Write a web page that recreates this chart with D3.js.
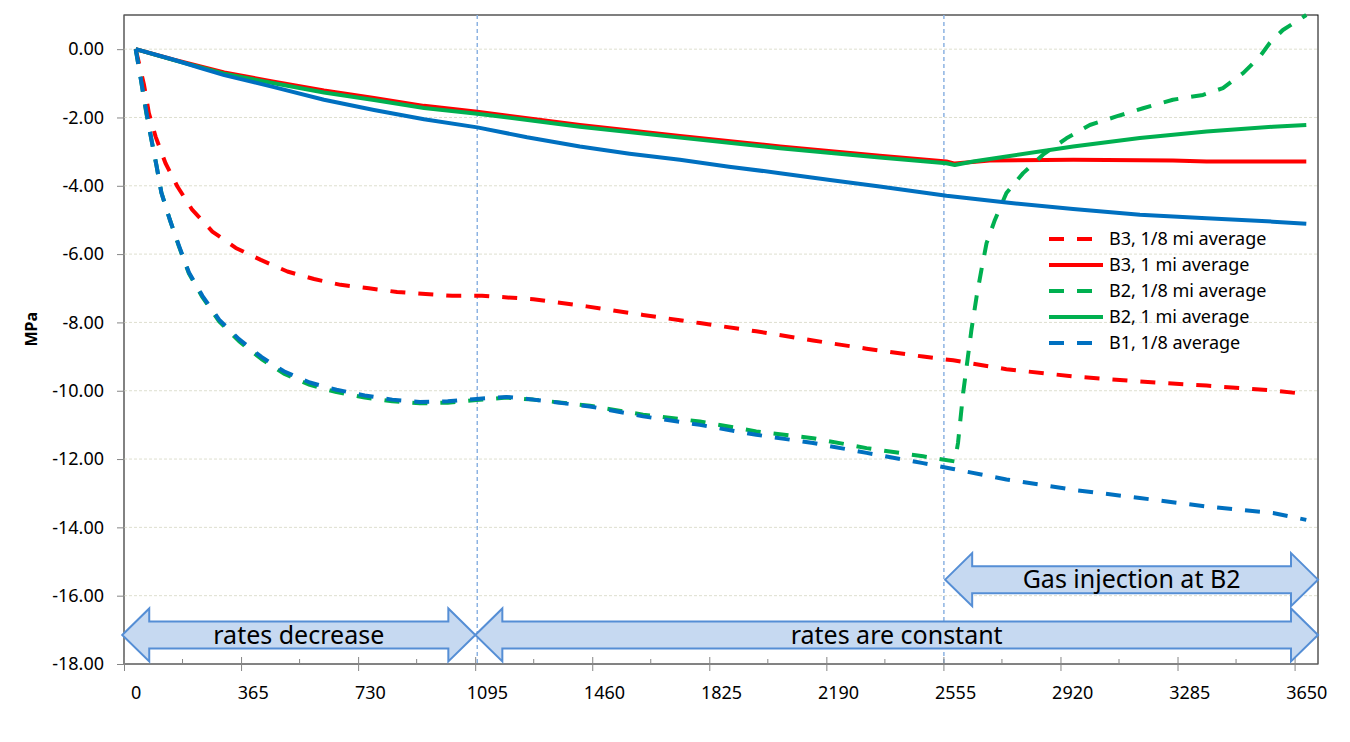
<!DOCTYPE html>
<html>
<head>
<meta charset="utf-8">
<script src="https://cdn.jsdelivr.net/npm/d3@7"></script>
<style>
  body { margin: 0; background: #fff; }
  svg { font-family: "Noto Sans", sans-serif; }
</style>
</head>
<body>
<div id="vis"></div>
<script>
// ---- data (day, MPa) ----
var b3Eighth = [[0,0],[26,-1.05],[41,-1.87],[62,-2.56],[93,-3.34],[130,-4.02],[176,-4.70],[239,-5.34],[312,-5.82],[390,-6.17],[473,-6.51],[556,-6.73],[639,-6.90],[727,-7.00],[815,-7.11],[904,-7.17],[987,-7.22],[1080,-7.22],[1240,-7.32],[1406,-7.53],[1582,-7.78],[1759,-8.02],[1935,-8.26],[2112,-8.53],[2279,-8.77],[2455,-9.00],[2549,-9.11],[2715,-9.37],[2923,-9.58],[3131,-9.73],[3339,-9.85],[3546,-9.99],[3650,-10.10]];
var b3Mile = [[0,0],[119,-0.31],[276,-0.68],[431,-0.95],[587,-1.21],[743,-1.43],[899,-1.66],[1065,-1.83],[1385,-2.22],[1697,-2.54],[2009,-2.85],[2320,-3.12],[2528,-3.29],[2554,-3.35],[2663,-3.26],[2923,-3.24],[3234,-3.26],[3339,-3.29],[3650,-3.29]];
var b2Eighth = [[0,0],[16,-0.88],[33,-1.87],[49,-2.65],[65,-3.42],[80,-4.2],[106,-4.98],[135,-5.78],[166,-6.57],[208,-7.26],[260,-7.97],[322,-8.55],[392,-9.07],[462,-9.50],[543,-9.83],[626,-10.04],[714,-10.20],[800,-10.31],[886,-10.37],[973,-10.35],[1063,-10.27],[1156,-10.20],[1240,-10.26],[1416,-10.44],[1582,-10.70],[1759,-10.90],[1935,-11.19],[2112,-11.39],[2279,-11.68],[2455,-11.92],[2554,-12.07],[2564,-11.53],[2580,-10.07],[2595,-9.00],[2606,-8.21],[2622,-7.24],[2637,-6.46],[2653,-5.68],[2679,-5.00],[2715,-4.21],[2767,-3.63],[2829,-3.09],[2902,-2.61],[2975,-2.22],[3058,-1.97],[3141,-1.73],[3234,-1.48],[3328,-1.34],[3390,-1.14],[3453,-0.70],[3505,-0.22],[3536,0.18],[3577,0.56],[3619,0.81],[3650,1.0]];
var b2Mile = [[0,0],[119,-0.32],[276,-0.72],[431,-1.00],[587,-1.27],[743,-1.49],[899,-1.72],[1065,-1.89],[1385,-2.27],[1697,-2.59],[2009,-2.90],[2320,-3.17],[2528,-3.34],[2554,-3.39],[2611,-3.29],[2715,-3.14],[2923,-2.85],[3131,-2.60],[3339,-2.41],[3546,-2.27],[3650,-2.22]];
var b1Eighth = [[0,0],[16,-0.88],[33,-1.83],[49,-2.65],[65,-3.42],[80,-4.2],[106,-4.98],[135,-5.76],[166,-6.54],[208,-7.22],[260,-7.92],[322,-8.49],[392,-9.01],[462,-9.43],[543,-9.76],[626,-9.97],[714,-10.14],[800,-10.26],[886,-10.33],[973,-10.31],[1063,-10.24],[1156,-10.18],[1240,-10.26],[1416,-10.46],[1582,-10.75],[1759,-11.00],[1935,-11.29],[2112,-11.53],[2279,-11.82],[2455,-12.12],[2549,-12.29],[2715,-12.60],[2923,-12.90],[3131,-13.14],[3339,-13.39],[3546,-13.58],[3650,-13.78]];
var b1Mile = [[0,0],[119,-0.31],[200,-0.55],[276,-0.76],[431,-1.11],[587,-1.48],[743,-1.78],[899,-2.05],[1065,-2.29],[1220,-2.58],[1385,-2.85],[1540,-3.06],[1697,-3.24],[1850,-3.44],[2009,-3.63],[2165,-3.83],[2320,-4.02],[2528,-4.29],[2715,-4.49],[2923,-4.68],[3131,-4.85],[3339,-4.95],[3546,-5.05],[3650,-5.11]];

var xTicks = [0, 365, 730, 1095, 1460, 1825, 2190, 2555, 2920, 3285, 3650];
var yTicks = [0, -2, -4, -6, -8, -10, -12, -14, -16, -18];

// drawing order follows the spreadsheet series order (blue last, on top)
var series = [
  { name: 'B3, 1/8 mi average', values: b3Eighth, color: '#ff0000', dashed: true,  legend: true },
  { name: 'B3, 1 mi average',   values: b3Mile,   color: '#ff0000', dashed: false, legend: true },
  { name: 'B2, 1/8 mi average', values: b2Eighth, color: '#00b050', dashed: true,  legend: true },
  { name: 'B2, 1 mi average',   values: b2Mile,   color: '#00b050', dashed: false, legend: true },
  { name: 'B1, 1/8 average',    values: b1Eighth, color: '#0070c0', dashed: true,  legend: true },
  { name: 'B1, 1 mi average',   values: b1Mile,   color: '#0070c0', dashed: false, legend: false }
];

// phase boundaries (days) and the arrow annotations (day extents on the x scale)
var phaseLines = [1065, 2520];
var arrows = [
  { label: 'rates decrease',      from: -42,  to: 1059,   level: -17.15 },
  { label: 'rates are constant',  from: 1059, to: 3686.5, level: -17.15 },
  { label: 'Gas injection at B2', from: 2524, to: 3686.5, level: -15.53 }
];

// ---- sizing ----
var width = 1350, height = 742;
var plot = { left: 124, right: 1318, top: 15, bottom: 664 };
var halfCat = 36.5;   // spreadsheet category half-width, in days

// plot spans half a category beyond the first and last day
var x = d3.scaleLinear()
  .domain([-halfCat, 3650 + halfCat])
  .range([plot.left, plot.right]);
var y = d3.scaleLinear()
  .domain([-18, 1])
  .range([plot.bottom, plot.top]);

var halfPx = x(halfCat) - x(0);

var fmt = d3.formatLocale({ decimal: '.', thousands: ',', grouping: [3], currency: ['', ''], minus: '-' }).format('.2f');

var svg = d3.select('#vis').append('svg')
  .attr('width', width)
  .attr('height', height);

// plot frame (top/right black)
svg.append('rect')
  .attr('x', plot.left).attr('y', plot.top)
  .attr('width', plot.right - plot.left).attr('height', plot.bottom - plot.top)
  .attr('fill', 'none').attr('stroke', '#000').attr('stroke-width', 1);

// gridlines
svg.append('g').selectAll('line')
  .data(yTicks.filter(function (d) { return d > -18; }))
  .enter().append('line')
  .attr('x1', plot.left).attr('x2', plot.right)
  .attr('y1', function (d) { return y(d); })
  .attr('y2', function (d) { return y(d); })
  .attr('stroke', '#dedfcf').attr('stroke-width', 1).attr('stroke-dasharray', '3,2');

// phase lines
svg.append('g').selectAll('line')
  .data(phaseLines)
  .enter().append('line')
  .attr('x1', function (d) { return x(d); })
  .attr('x2', function (d) { return x(d); })
  .attr('y1', plot.top).attr('y2', plot.bottom)
  .attr('stroke', '#8db3e2').attr('stroke-width', 1.5).attr('stroke-dasharray', '4,3');

// y axis
var yAxis = svg.append('g')
  .attr('transform', 'translate(' + plot.left + ',0)')
  .call(d3.axisLeft(y).tickValues(yTicks).tickFormat(fmt).tickSize(7).tickPadding(13));
yAxis.select('.domain').attr('stroke', '#868686').attr('d', 'M0,' + plot.top + 'V' + plot.bottom);
yAxis.selectAll('.tick line').attr('stroke', '#868686');
yAxis.selectAll('text').attr('font-size', 18).attr('fill', '#000').attr('font-family', '"Noto Sans", sans-serif');

// x axis: labels on categories, tick marks on category boundaries
var xAxis = svg.append('g')
  .attr('transform', 'translate(0,' + plot.bottom + ')')
  .call(d3.axisBottom(x).tickValues(xTicks).tickFormat(d3.format('d')).tickSize(0));
xAxis.select('.domain').attr('stroke', '#868686').attr('d', 'M' + plot.left + ',0H' + plot.right);
xAxis.selectAll('.tick line')
  .attr('x1', -halfPx).attr('x2', -halfPx)
  .attr('y1', -7).attr('y2', 7)
  .attr('stroke', '#868686');
xAxis.selectAll('text')
  .attr('y', 22).attr('font-size', 18).attr('fill', '#000')
  .attr('font-family', '"Noto Sans", sans-serif');
xAxis.selectAll('.minor')
  .data(xTicks.slice(0, -1))
  .enter().append('line')
  .attr('class', 'minor')
  .attr('x1', function (d) { return x(d + 182.5 - halfCat); })
  .attr('x2', function (d) { return x(d + 182.5 - halfCat); })
  .attr('y1', -5).attr('y2', 0)
  .attr('stroke', '#868686');

// axis title
svg.append('text')
  .attr('transform', 'translate(37,' + y(-8.2) + ') rotate(-90)')
  .attr('text-anchor', 'middle')
  .attr('font-size', 16).attr('font-weight', 'bold')
  .text('MPa');

// series lines
var line = d3.line()
  .x(function (d) { return x(d[0]); })
  .y(function (d) { return y(d[1]); });

svg.append('g').selectAll('path')
  .data(series)
  .enter().append('path')
  .attr('d', function (d) { return line(d.values); })
  .attr('fill', 'none')
  .attr('stroke', function (d) { return d.color; })
  .attr('stroke-width', 4)
  .attr('stroke-linejoin', 'round')
  .attr('stroke-dasharray', function (d) { return d.dashed ? '15,13' : null; });

// legend
var legend = svg.append('g').attr('transform', 'translate(1049,239)');
var entries = legend.selectAll('g')
  .data(series.filter(function (d) { return d.legend; }))
  .enter().append('g')
  .attr('transform', function (d, i) { return 'translate(0,' + i * 26 + ')'; });
entries.append('line')
  .attr('x1', 0).attr('x2', 54)
  .attr('stroke', function (d) { return d.color; })
  .attr('stroke-width', 4)
  .attr('stroke-dasharray', function (d) { return d.dashed ? '15,13' : null; });
entries.append('text')
  .attr('x', 60).attr('dy', '0.35em')
  .attr('font-size', 18)
  .text(function (d) { return d.name; });

// double-headed block arrows
function arrowPath(x1, x2, cy) {
  var head = 27, hh = 26.5, sh = 13.5;
  return 'M' + x1 + ',' + cy +
    'L' + (x1 + head) + ',' + (cy - hh) + 'V' + (cy - sh) +
    'H' + (x2 - head) + 'V' + (cy - hh) +
    'L' + x2 + ',' + cy +
    'L' + (x2 - head) + ',' + (cy + hh) + 'V' + (cy + sh) +
    'H' + (x1 + head) + 'V' + (cy + hh) + 'Z';
}
var arrowG = svg.append('g').selectAll('g')
  .data(arrows)
  .enter().append('g');
arrowG.append('path')
  .attr('d', function (d) { return arrowPath(x(d.from), x(d.to), y(d.level)); })
  .attr('fill', '#c6d9f1')
  .attr('stroke', '#558ed5')
  .attr('stroke-width', 2);
arrowG.append('text')
  .attr('x', function (d) { return (x(d.from) + x(d.to)) / 2; })
  .attr('y', function (d) { return y(d.level); })
  .attr('dy', '0.35em')
  .attr('text-anchor', 'middle')
  .attr('font-size', 25)
  .text(function (d) { return d.label; });
</script>
</body>
</html>
